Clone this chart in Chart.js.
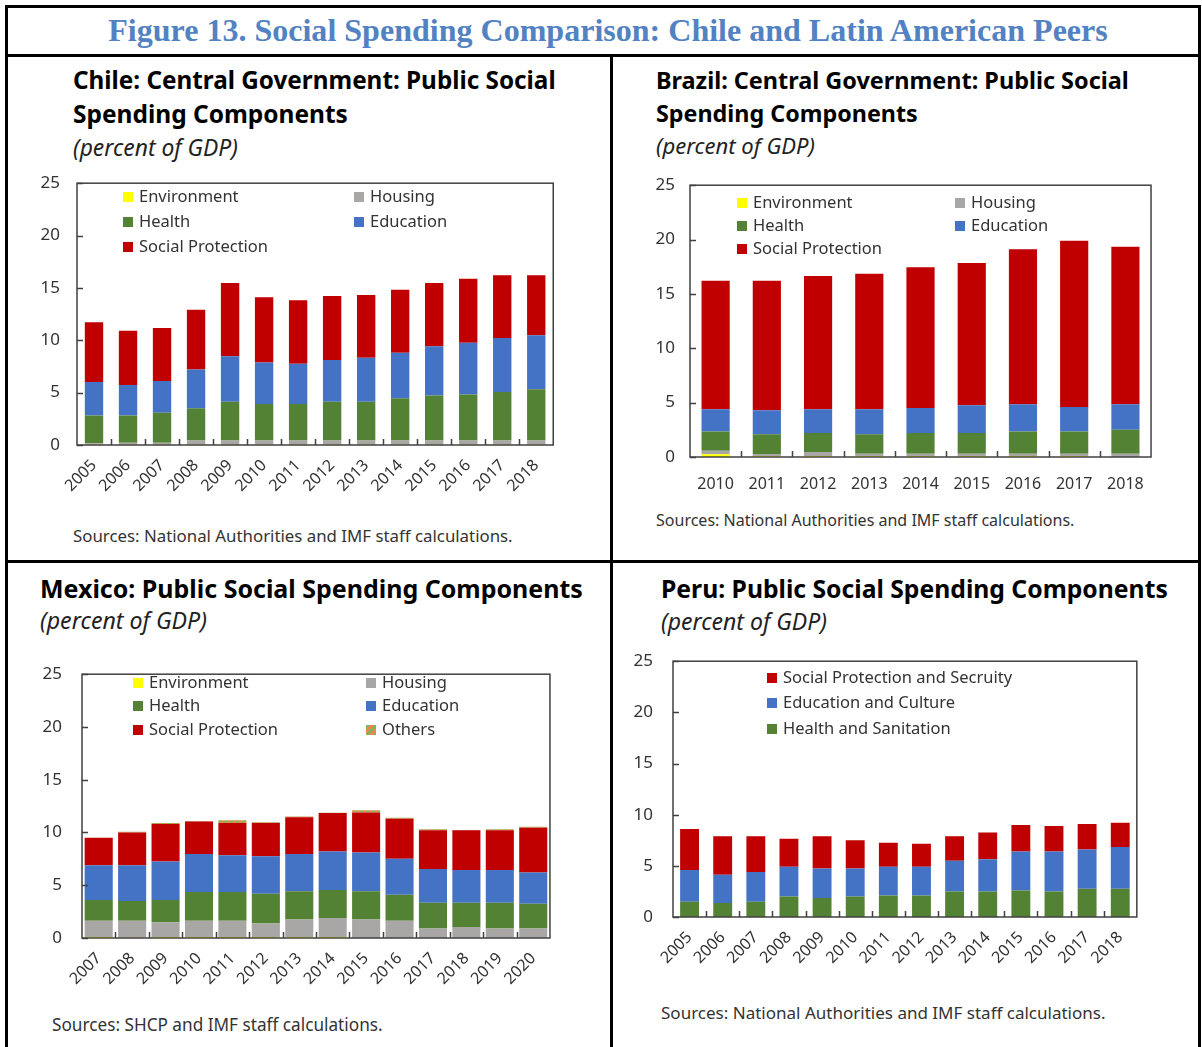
<!DOCTYPE html>
<html>
<head>
<meta charset="utf-8">
<script src="https://cdn.jsdelivr.net/npm/chart.js@4.4.1/dist/chart.umd.min.js"></script>
<style>
  body{margin:0;background:#fff;width:1202px;height:1047px;overflow:hidden;position:relative;font-family:"Noto Sans",sans-serif;color:#1a1a1a}
  .line{position:absolute;background:#000}
  .t{position:absolute;white-space:nowrap;line-height:1}
  .ttl{font-weight:bold;color:#000}
  .sub{font-style:italic;color:#222}
  .src{color:#333}
  canvas{position:absolute}
  .lg{position:absolute;white-space:nowrap;color:#333;line-height:1}
  .lg i{display:inline-block;width:10px;height:10px;margin-right:6px;vertical-align:0px}
</style>
</head>
<body>
<!-- frame -->
<div class="line" style="left:5px;top:5px;width:1196px;height:3px"></div>
<div class="line" style="left:5px;top:5px;width:3px;height:1042px"></div>
<div class="line" style="left:1198px;top:5px;width:3px;height:1042px"></div>
<div class="line" style="left:5px;top:54px;width:1196px;height:3px"></div>
<div class="line" style="left:610px;top:54px;width:3px;height:993px"></div>
<div class="line" style="left:5px;top:560px;width:1196px;height:3px"></div>

<div class="t" data-w="1000" data-cx="608" data-cy="30" style="font-family:'Liberation Serif',serif;font-weight:bold;color:#5282c2;font-size:30px">Figure 13. Social Spending Comparison: Chile and Latin American Peers</div>

<div class="t ttl" data-w="483" data-x="73" data-cy="80" style="font-size:24px">Chile: Central Government: Public Social</div>
<div class="t ttl" data-w="275" data-x="73" data-cy="114" style="font-size:24px">Spending Components</div>
<div class="t sub" data-w="165" data-x="73" data-cy="148" style="font-size:21px">(percent of GDP)</div>
<div class="t src" data-w="440" data-x="73" data-cy="536" style="font-size:17px">Sources: National Authorities and IMF staff calculations.</div>

<div class="t ttl" data-w="473" data-x="656" data-cy="81" style="font-size:24px">Brazil: Central Government: Public Social</div>
<div class="t ttl" data-w="262" data-x="656" data-cy="114" style="font-size:24px">Spending Components</div>
<div class="t sub" data-w="159" data-x="656" data-cy="145" style="font-size:21px">(percent of GDP)</div>
<div class="t src" data-w="419" data-x="656" data-cy="520" style="font-size:17px">Sources: National Authorities and IMF staff calculations.</div>

<div class="t ttl" data-w="543" data-x="40" data-cy="588" style="font-size:24px">Mexico: Public Social Spending Components</div>
<div class="t sub" data-w="167" data-x="40" data-cy="621" style="font-size:21px">(percent of GDP)</div>
<div class="t src" data-w="331" data-x="52" data-cy="1025" style="font-size:17px">Sources: SHCP and IMF staff calculations.</div>

<div class="t ttl" data-w="507" data-x="661" data-cy="589" style="font-size:24px">Peru: Public Social Spending Components</div>
<div class="t sub" data-w="166" data-x="661" data-cy="622" style="font-size:21px">(percent of GDP)</div>
<div class="t src" data-w="445" data-x="661" data-cy="1013" style="font-size:17px">Sources: National Authorities and IMF staff calculations.</div>

<canvas id="chile" width="521" height="347" style="left:40px;top:156px"></canvas>
<canvas id="brazil" width="512" height="337" style="left:650px;top:160px"></canvas>
<canvas id="mexico" width="518" height="354" style="left:40px;top:644px"></canvas>
<canvas id="peru" width="515" height="346" style="left:630px;top:631px"></canvas>
<div id="legends"></div>

<script>
// ---- data (percent of GDP) ----
const chileYears=['2005','2006','2007','2008','2009','2010','2011','2012','2013','2014','2015','2016','2017','2018'];
const chileEnvironment=[0.02,0.02,0.02,0.02,0.02,0.02,0.02,0.02,0.02,0.02,0.02,0.02,0.02,0.02];
const chileHousing=[0.15,0.2,0.2,0.4,0.4,0.4,0.4,0.4,0.4,0.4,0.4,0.4,0.4,0.4];
const chileHealth=[2.65,2.6,2.85,3.1,3.7,3.5,3.5,3.7,3.7,4.05,4.3,4.4,4.65,4.9];
const chileEducation=[3.2,2.9,3.05,3.7,4.35,3.95,3.85,4.0,4.2,4.35,4.7,4.95,5.15,5.15];
const chileSocial=[5.7,5.2,5.05,5.7,7.0,6.25,6.05,6.1,6.0,6.0,6.05,6.1,6.0,5.75];

const brazilYears=['2010','2011','2012','2013','2014','2015','2016','2017','2018'];
const brazilEnvironment=[0.25,0.1,0.1,0.1,0.1,0.1,0.1,0.1,0.0];
const brazilHousing=[0.33,0.18,0.36,0.2,0.2,0.2,0.2,0.2,0.3];
const brazilHealth=[1.77,1.82,1.74,1.8,1.9,1.9,2.05,2.05,2.2];
const brazilEducation=[2.05,2.2,2.2,2.3,2.3,2.55,2.5,2.25,2.35];
const brazilSocial=[11.8,11.9,12.25,12.45,12.95,13.1,14.25,15.3,14.5];

const mexicoYears=['2007','2008','2009','2010','2011','2012','2013','2014','2015','2016','2017','2018','2019','2020'];
const mexicoEnvironment=[0.1,0.03,0.1,0.1,0.1,0.1,0.1,0.1,0,0,0,0,0,0];
const mexicoHousing=[1.53,1.6,1.4,1.53,1.53,1.28,1.66,1.8,1.76,1.63,0.9,1.05,0.9,0.9];
const mexicoHealth=[1.97,1.87,2.1,2.72,2.72,2.82,2.67,2.65,2.67,2.47,2.45,2.3,2.45,2.35];
const mexicoEducation=[3.3,3.4,3.65,3.6,3.5,3.55,3.52,3.65,3.67,3.4,3.2,3.1,3.1,2.95];
const mexicoSocial=[2.6,3.1,3.55,3.1,3.05,3.15,3.5,3.65,3.8,3.8,3.65,3.75,3.75,4.25];
const mexicoOthers=[0,0.06,0.1,0.03,0.25,0.08,0.06,0.03,0.2,0.1,0.1,0.03,0.1,0.1];

const peruYears=['2005','2006','2007','2008','2009','2010','2011','2012','2013','2014','2015','2016','2017','2018'];
const peruHealth=[1.5,1.37,1.5,2.0,1.85,2.0,2.1,2.1,2.5,2.5,2.6,2.5,2.75,2.75];
const peruEducation=[3.1,2.77,2.9,2.9,2.9,2.75,2.8,2.8,3.0,3.15,3.8,3.9,3.85,4.1];
const peruSocial=[4.0,3.76,3.5,2.75,3.15,2.75,2.35,2.25,2.4,2.6,2.6,2.5,2.5,2.35];

const yTicks=[0,5,10,15,20,25];

// ---- colours ----
const YEL='#ffff00',GRY='#a9a6a6',GRN='#548235',BLU='#4472c4',RED='#c00000';
function stripes(){
  const c=document.createElement('canvas');c.width=6;c.height=6;
  const g=c.getContext('2d');
  g.fillStyle='#7fb65c';g.fillRect(0,0,6,6);
  g.strokeStyle='#f4844c';g.lineWidth=2;
  g.beginPath();g.moveTo(0,6);g.lineTo(6,0);g.moveTo(-3,3);g.lineTo(3,-3);g.moveTo(3,9);g.lineTo(9,3);g.stroke();
  return g.createPattern(c,'repeat');
}

// ---- text fitting ----
document.querySelectorAll('.t').forEach(el=>{
  const w=+el.dataset.w, fs=parseFloat(el.style.fontSize);
  const m=el.getBoundingClientRect().width;
  const nf=fs*w/m; el.style.fontSize=nf+'px';
  const r=el.getBoundingClientRect();
  el.style.top=(+el.dataset.cy - r.height/2)+'px';
  if(el.dataset.cx) el.style.left=(+el.dataset.cx - r.width/2)+'px';
  else el.style.left=el.dataset.x+'px';
});

// inner tick marks and plot-box outline
const framePlugin={
  id:'frame',
  afterDraw(chart){
    const {ctx,chartArea:a,scales:{x,y}}=chart;
    ctx.save();
    ctx.strokeStyle='#404040';ctx.lineWidth=1.5;
    ctx.strokeRect(a.left,a.top,a.right-a.left,a.bottom-a.top);
    ctx.beginPath();
    y.ticks.forEach(t=>{const py=Math.round(y.getPixelForValue(t.value))+0.5;ctx.moveTo(a.left,py);ctx.lineTo(a.left+6,py);});
    const n=x.ticks.length,step=(a.right-a.left)/n;
    for(let i=1;i<n;i++){const px=Math.round(a.left+i*step)+0.5;ctx.moveTo(px,a.bottom);ctx.lineTo(px,a.bottom-6);}
    ctx.stroke();ctx.restore();
  }
};

function makeChart(id,labels,sets,cfg){
  return new Chart(document.getElementById(id),{
    type:'bar',
    data:{labels,datasets:sets.map(s=>({label:s[0],data:s[1],backgroundColor:s[2],borderWidth:0,barPercentage:cfg.bar,categoryPercentage:1}))},
    options:{
      responsive:false,animation:false,
      layout:{padding:{top:10,right:5,left:0,bottom:0}},
      plugins:{legend:{display:false},tooltip:{enabled:false}},
      scales:{
        x:{stacked:true,grid:{display:false,drawTicks:false},border:{display:false},
           ticks:{color:'#333',font:{family:'Noto Sans',size:cfg.xfs},autoSkip:false,maxRotation:cfg.rot,minRotation:cfg.rot,padding:cfg.xpad},
           afterFit:s=>{s.height=cfg.xh}},
        y:{stacked:true,min:0,max:25,grid:{display:false,drawTicks:false},border:{display:false},
           afterBuildTicks:s=>{s.ticks=yTicks.map(v=>({value:v}))},
           ticks:{color:'#333',font:{family:'Noto Sans',size:17},padding:cfg.ypad},
           afterFit:s=>{s.width=cfg.yw}}
      }
    },
    plugins:[framePlugin]
  });
}

const chileSets=[['Environment',chileEnvironment,YEL],['Housing',chileHousing,GRY],['Health',chileHealth,GRN],['Education',chileEducation,BLU],['Social Protection',chileSocial,RED]];
const brazilSets=[['Environment',brazilEnvironment,YEL],['Housing',brazilHousing,GRY],['Health',brazilHealth,GRN],['Education',brazilEducation,BLU],['Social Protection',brazilSocial,RED]];
const mexicoSets=[['Environment',mexicoEnvironment,YEL],['Housing',mexicoHousing,GRY],['Health',mexicoHealth,GRN],['Education',mexicoEducation,BLU],['Social Protection',mexicoSocial,RED],['Others',mexicoOthers,stripes()]];
const peruSets=[['Health and Sanitation',peruHealth,GRN],['Education and Culture',peruEducation,BLU],['Social Protection and Secruity',peruSocial,RED]];

makeChart('chile',chileYears,chileSets,{bar:0.54,rot:45,xfs:16,xpad:11,xh:58,yw:37,ypad:17});
makeChart('brazil',brazilYears,brazilSets,{bar:0.55,rot:0,xfs:16,xpad:18,xh:40,yw:40,ypad:15});
makeChart('mexico',mexicoYears,mexicoSets,{bar:0.84,rot:45,xfs:16,xpad:11,xh:60,yw:42,ypad:20});
makeChart('peru',peruYears,peruSets,{bar:0.57,rot:45,xfs:16,xpad:11,xh:60,yw:43,ypad:20});

// ---- HTML legends: [sets, datasetIndex, x, y] ----
const legendItems=[
  [chileSets,0,123,197],[chileSets,1,354,197],[chileSets,2,123,222],[chileSets,3,354,222],[chileSets,4,123,247],
  [brazilSets,0,737,203],[brazilSets,1,955,203],[brazilSets,2,737,226],[brazilSets,3,955,226],[brazilSets,4,737,249],
  [mexicoSets,0,133,683],[mexicoSets,1,366,683],[mexicoSets,2,133,706],[mexicoSets,3,366,706],[mexicoSets,4,133,730],[mexicoSets,5,366,730],
  [peruSets,2,767,678],[peruSets,1,767,703],[peruSets,0,767,729]
];
const lg=document.getElementById('legends');
legendItems.forEach(([sets,i,x,y])=>{
  const d=document.createElement('div');d.className='lg';
  const sw=document.createElement('i');
  const c=sets[i][2];
  sw.style.background=typeof c==='string'?c:'repeating-linear-gradient(135deg,#7fb65c 0 3px,#f4844c 3px 6px)';
  d.appendChild(sw);d.appendChild(document.createTextNode(sets[i][0]));
  d.style.fontSize='16.5px';d.style.left=x+'px';d.style.top=(y-9)+'px';
  lg.appendChild(d);
});
</script>
</body>
</html>
